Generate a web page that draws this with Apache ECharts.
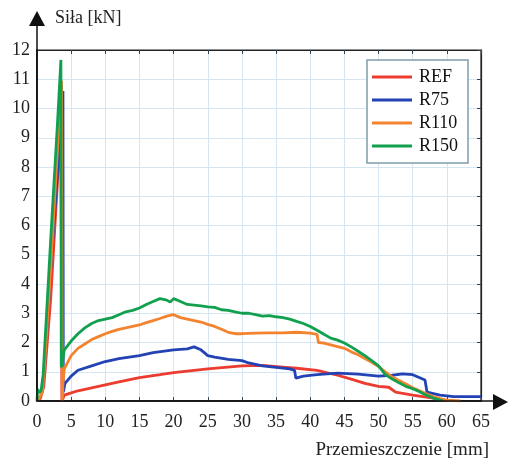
<!DOCTYPE html>
<html>
<head>
<meta charset="utf-8">
<script src="https://cdn.jsdelivr.net/npm/echarts@6/dist/echarts.min.js"></script>
<style>html,body{margin:0;padding:0;background:#fff}#c{width:508px;height:462px}</style>
</head>
<body>
<div id="c"></div>
<script>
const seriesNames = ['REF', 'R75', 'R110', 'R150'];
const xTicks = [0, 5, 10, 15, 20, 25, 30, 35, 40, 45, 50, 55, 60, 65];
const yTicks = [0, 1, 2, 3, 4, 5, 6, 7, 8, 9, 10, 11, 12];

const refData = [[0,0],[0.5,0.1],[1,0.5],[2,3.5],[3,7.5],[3.5,9.5],[3.65,0],[4,0.2],[5,0.28],[6,0.35],[8,0.45],[10,0.55],[12,0.65],[15,0.8],[18,0.9],[20,0.97],[25,1.1],[30,1.2],[33,1.22],[36,1.16],[38,1.12],[41,1.05],[44,0.88],[46,0.75],[48,0.6],[50,0.5],[51.5,0.47],[52.5,0.3],[55,0.2],[58,0.1],[60,0]];

const r75Data = [[0,0.4],[0.3,0.3],[0.8,0.35],[1.2,1.5],[2,4.5],[3,7.8],[3.6,9.5],[3.8,10.6],[3.85,0.3],[4.1,0.6],[5,0.85],[6,1.05],[8,1.2],[10,1.35],[12,1.45],[15,1.55],[17,1.65],[20,1.75],[22,1.78],[23,1.85],[24,1.75],[25,1.55],[26,1.5],[28,1.42],[30,1.38],[31,1.3],[33,1.2],[35,1.15],[37,1.1],[37.7,1.05],[37.9,0.78],[39,0.85],[41,0.9],[44,0.95],[47,0.92],[50,0.85],[52,0.88],[53.5,0.93],[55,0.9],[56.8,0.72],[57.1,0.3],[59,0.2],[61,0.15],[65,0.15]];

const r110Data = [[0,0],[0.3,0.1],[0.8,0.3],[1.2,1.5],[2,4.5],[3,8.6],[3.6,10.95],[3.7,0],[3.8,0.6],[4,1.1],[5,1.55],[6,1.8],[7,1.95],[8,2.1],[9,2.2],[10,2.3],[11,2.38],[12,2.45],[13,2.5],[14,2.55],[15,2.6],[16,2.68],[17,2.75],[18,2.82],[19,2.9],[20,2.95],[21,2.85],[22,2.8],[23,2.75],[24,2.7],[25,2.62],[26,2.55],[27,2.45],[28,2.35],[29,2.3],[30,2.3],[32,2.32],[34,2.33],[36,2.33],[38,2.35],[40,2.32],[41,2.28],[41.2,2.0],[42,1.98],[43,1.92],[44,1.86],[45,1.8],[46,1.68],[47,1.58],[48,1.45],[49,1.32],[50,1.18],[51,1.0],[52,0.82],[53,0.7],[54,0.58],[55,0.45],[56,0.35],[57,0.25],[58,0.15],[59,0.08],[60,0.03],[62,0]];

const r150Data = [[0,0],[0.1,0.4],[0.3,0.3],[0.6,0.35],[0.9,0.9],[2,5.5],[3,9.5],[3.5,11.66],[3.55,1.15],[3.7,1.3],[4,1.75],[5,2.05],[6,2.3],[7,2.5],[8,2.65],[9,2.75],[10,2.8],[11,2.85],[12,2.95],[13,3.05],[14,3.1],[15,3.18],[16,3.3],[17,3.4],[18,3.5],[19,3.45],[19.5,3.38],[20,3.5],[21,3.4],[22,3.3],[23,3.28],[24,3.25],[25,3.22],[26,3.2],[27,3.12],[28,3.1],[29,3.05],[30,3.0],[31,3.0],[32,2.95],[33,2.9],[34,2.92],[35,2.88],[36,2.85],[37,2.8],[38,2.72],[39,2.65],[40,2.55],[41,2.42],[42,2.28],[43,2.15],[44,2.08],[45,1.98],[46,1.85],[47,1.7],[48,1.55],[49,1.38],[50,1.2],[51,0.9],[52,0.75],[53,0.62],[54,0.5],[55,0.42],[56,0.32],[57,0.2],[58,0.1],[59,0.03],[59.5,0]];

const colors = ['#EC3B2F', '#2343B5', '#F4832F', '#11A04E'];
const allData = [refData, r75Data, r110Data, r150Data];

const FONT = '"Liberation Serif", "Times New Roman", serif';
const chart = echarts.init(document.getElementById('c'));

const series = seriesNames.map((n, i) => ({
  name: n, type: 'line', data: allData[i],
  showSymbol: false, symbol: 'none',
  lineStyle: { color: colors[i], width: 2.8 },
  itemStyle: { color: colors[i] },
  z: 2 + i
}));
// empty series so the frame axes (top / right) are rendered
series.push({ type: 'line', xAxisIndex: 1, yAxisIndex: 1, data: [], silent: true });

chart.setOption({
  animation: false,
  backgroundColor: '#fff',
  grid: { left: 37, right: 27, top: 50, bottom: 61, containLabel: false,
    show: true, borderColor: '#222', borderWidth: 1.2, backgroundColor: 'transparent' },
  legend: {
    data: seriesNames,
    orient: 'vertical',
    left: 367, top: 60,
    padding: [8, 10, 8, 5],
    itemWidth: 40, itemHeight: 3, itemGap: 5,
    icon: 'rect',
    borderColor: '#7F9DAA', borderWidth: 1.5, borderRadius: 0,
    backgroundColor: '#fff',
    textStyle: { fontFamily: FONT, fontSize: 18, color: '#111', padding: [0, 0, 0, 2] }
  },
  xAxis: [{
    type: 'value', min: 0, max: 65, interval: 5,
    axisLine: { show: true, onZero: false, lineStyle: { color: '#111', width: 1.5 } },
    axisTick: { show: true, inside: true, length: 4, lineStyle: { color: '#445' } },
    axisLabel: { fontFamily: FONT, fontSize: 18, color: '#222', margin: 12,
      formatter: v => xTicks.includes(v) ? String(v) : '' },
    splitLine: { show: true, lineStyle: { color: '#D3E6F1', width: 1 } }
  }, {
    type: 'value', position: 'top', min: 0, max: 65, interval: 5,
    axisLine: { show: true, onZero: false, lineStyle: { color: '#222', width: 1.2 } },
    axisTick: { show: true, inside: true, length: 4, lineStyle: { color: '#345' } },
    axisLabel: { show: false }, splitLine: { show: false }
  }],
  yAxis: [{
    type: 'value', min: 0, max: 12, interval: 1,
    axisLine: { show: true, onZero: false, lineStyle: { color: '#111', width: 1.5 } },
    axisTick: { show: false },
    axisLabel: { fontFamily: FONT, fontSize: 18, color: '#222', margin: 7,
      formatter: v => yTicks.includes(v) ? String(v) : '' },
    splitLine: { show: true, lineStyle: { color: '#D3E6F1', width: 1 } }
  }, {
    type: 'value', position: 'right', min: 0, max: 12, interval: 1,
    axisLine: { show: true, onZero: false, lineStyle: { color: '#222', width: 1.2 } },
    axisTick: { show: true, inside: true, length: 4, lineStyle: { color: '#345' } },
    axisLabel: { show: false }, splitLine: { show: false }
  }],
  series: series,
  graphic: [
    { type: 'line', shape: { x1: 37, y1: 401, x2: 37, y2: 22 }, style: { stroke: '#111', lineWidth: 1.5 }, z: 10 },
    { type: 'polygon', shape: { points: [[37, 11], [29, 26], [45, 26]] }, style: { fill: '#111' }, z: 10 },
    { type: 'line', shape: { x1: 37, y1: 401, x2: 497, y2: 401 }, style: { stroke: '#111', lineWidth: 1.5 }, z: 10 },
    { type: 'polygon', shape: { points: [[508, 402], [493, 394], [493, 410]] }, style: { fill: '#111' }, z: 10 },
    { type: 'text', left: 55, top: 9, style: { text: 'Siła [kN]', font: '18px ' + FONT, fill: '#222' }, z: 10 },
    { type: 'text', right: 19, top: 441, style: { text: 'Przemieszczenie [mm]', font: '19px ' + FONT, fill: '#222' }, z: 10 }
  ]
});
</script>
</body>
</html>
